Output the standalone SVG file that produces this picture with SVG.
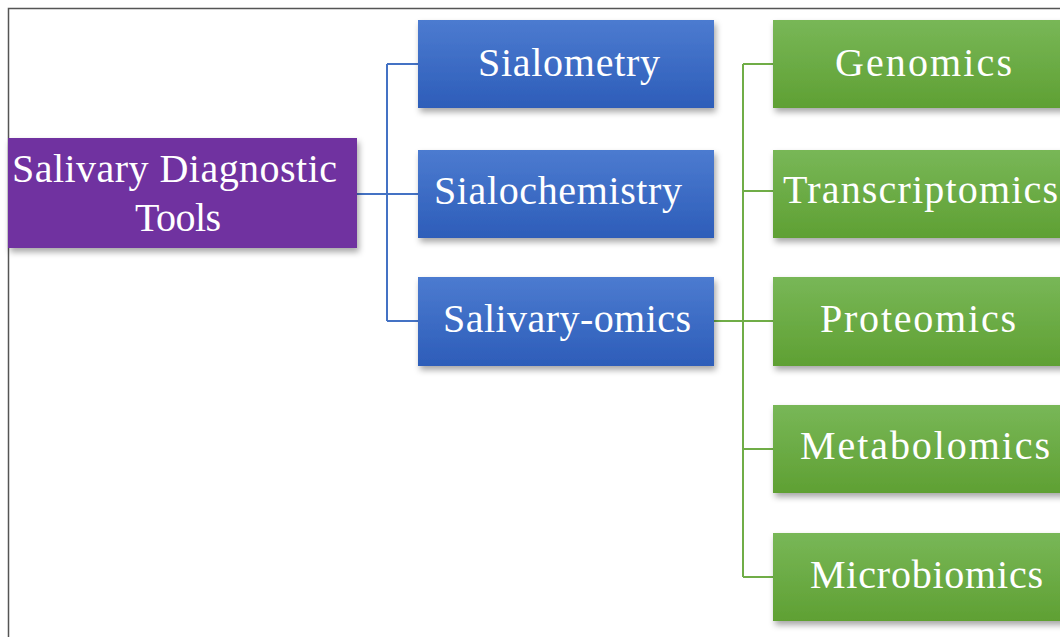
<svg xmlns="http://www.w3.org/2000/svg" width="1060" height="637" viewBox="0 0 1060 637">
<style>
.t{font-family:'Liberation Serif','Times New Roman',serif;font-size:40px;fill:#fff;text-anchor:middle}
.bl{fill:none;stroke:#4472C4;stroke-width:2}
.gl{fill:none;stroke:#70AD47;stroke-width:2}
</style>
<defs>
<linearGradient id="gb" x1="0" y1="0" x2="0" y2="1"><stop offset="0" stop-color="#4C7BD0"/><stop offset="1" stop-color="#2D5DB9"/></linearGradient>
<linearGradient id="gg" x1="0" y1="0" x2="0" y2="1"><stop offset="0" stop-color="#78B757"/><stop offset="1" stop-color="#5FA033"/></linearGradient>
<filter id="sh" x="-10%" y="-10%" width="130%" height="140%"><feDropShadow dx="2" dy="4" stdDeviation="3" flood-color="#000" flood-opacity="0.35"/></filter>
</defs>
<rect width="1060" height="637" fill="#fff"/>
<path d="M8.5 637V8.5H1060" fill="none" stroke="#555" stroke-width="1.5"/>
<g id="connectors">
<path class="bl" d="M357 194H418M387 64V321M387 64H418M387 321H418"/>
<path class="gl" d="M714 321H773M743 64V577M743 64H773M743 191H773M743 449H773M743 577H773"/>
</g>
<g id="n-root"><rect x="8" y="138" width="349" height="110" fill="#7030A0" filter="url(#sh)"/><text class="t" x="174.5" y="182" textLength="325">Salivary Diagnostic</text><text class="t" x="178" y="231" textLength="86">Tools</text></g>
<g id="n-sialometry"><rect x="418" y="20" width="296" height="88" fill="url(#gb)" filter="url(#sh)"/><text class="t" x="569" y="76" textLength="182">Sialometry</text></g>
<g id="n-sialochemistry"><rect x="418" y="150" width="296" height="88" fill="url(#gb)" filter="url(#sh)"/><text class="t" x="558" y="204" textLength="248">Sialochemistry</text></g>
<g id="n-salivaryomics"><rect x="418" y="277" width="296" height="89" fill="url(#gb)" filter="url(#sh)"/><text class="t" x="567" y="332" textLength="248">Salivary-omics</text></g>
<g id="n-genomics"><rect x="773" y="20" width="300" height="88" fill="url(#gg)" filter="url(#sh)"/><text class="t" x="923.5" y="76" textLength="177">Genomics</text></g>
<g id="n-transcriptomics"><rect x="773" y="150" width="300" height="88" fill="url(#gg)" filter="url(#sh)"/><text class="t" x="920.5" y="203" textLength="275">Transcriptomics</text></g>
<g id="n-proteomics"><rect x="773" y="277" width="300" height="89" fill="url(#gg)" filter="url(#sh)"/><text class="t" x="918" y="332" textLength="196">Proteomics</text></g>
<g id="n-metabolomics"><rect x="773" y="405" width="300" height="88" fill="url(#gg)" filter="url(#sh)"/><text class="t" x="925" y="459" textLength="250">Metabolomics</text></g>
<g id="n-microbiomics"><rect x="773" y="533" width="300" height="88" fill="url(#gg)" filter="url(#sh)"/><text class="t" x="926.5" y="588" textLength="233">Microbiomics</text></g>
</svg>
